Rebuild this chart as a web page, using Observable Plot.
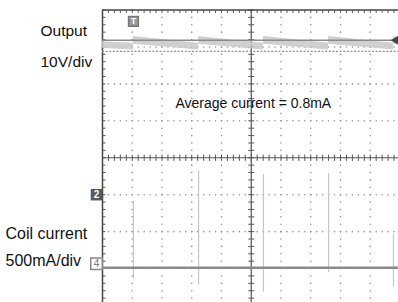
<!DOCTYPE html>
<html>
<head>
<meta charset="utf-8">
<script src="https://cdn.jsdelivr.net/npm/d3@7"></script>
<script src="https://cdn.jsdelivr.net/npm/@observablehq/plot@0.6"></script>
<style>
  html, body { margin: 0; padding: 0; background: #fff; }
</style>
</head>
<body>
<div id="chart"></div>
<script>
// ---- data (screen divisions: x 0..10, y -4..4) ----
const channelNames = ["Output", "10V/div", "Coil current", "500mA/div"];
const annotation = "Average current = 0.8mA";

// output ripple envelope (time in divisions)
const outT  = [0,    1.04, 1.04, 3.23, 3.23, 5.41, 5.41, 7.60, 7.60, 9.78, 9.78, 10];
const outHi = [3.14, 3.10, 3.28, 3.10, 3.28, 3.10, 3.28, 3.10, 3.28, 3.10, 3.28, 3.26];
const outLo = [2.96, 2.92, 3.07, 2.92, 3.07, 2.92, 3.07, 2.92, 3.07, 2.92, 3.07, 3.05];
const outputLevel = 3.18;
const outputLowLevel = 2.88;

// coil current pulses
const pulseT   = [1.04, 3.23, 5.41, 7.60, 9.78];
const pulseTop = [-1.17, -0.35, -0.44, -0.41, -2.07];
const pulseBot = [-3.27, -3.43, -3.62, -3.10, -3.48];
const coilLevel = -2.98;

// channel markers
const markers = [
  {ch: "2", level: -1.0},
  {ch: "4", level: -2.98}
];

// ---- derived ----
const band = outT.map((t, i) => ({t, hi: outHi[i], lo: outLo[i]}));
const pulses = pulseT.map((t, i) => ({t, top: pulseTop[i], bot: pulseBot[i]}));

const gridDots = [];
for (let gx = 1; gx <= 9; gx++) {
  if (gx === 5) continue;
  for (let k = -20; k <= 20; k++) gridDots.push({x: gx, y: k / 5});
}
for (let gy = -3; gy <= 3; gy++) {
  if (gy === 0) continue;
  for (let k = 0; k <= 50; k++) gridDots.push({x: k / 5, y: gy});
}
const minorX = d3.range(0, 51).map(k => k / 5);
const minorY = d3.range(-20, 21).map(k => k / 5);

const H = {x1: 0, x2: 10.2};
const chart = Plot.plot({
  width: 398,
  height: 302,
  margin: 0,
  x: {domain: [0, 10], range: [102, 399.5], axis: null},
  y: {domain: [-4, 4], range: [305, 9.5], axis: null},
  style: {background: "#fff", fontFamily: "'Liberation Sans', Arial, Helvetica, sans-serif", overflow: "visible"},
  marks: [
    // graticule dots
    Plot.dot(gridDots, {x: "x", y: "y", r: 0.8, fill: "#949494", stroke: null}),
    // center axes with ticks
    Plot.ruleY([0], {...H, stroke: "#555", strokeWidth: 1.2}),
    Plot.ruleX([5], {y1: -4.2, y2: 4, stroke: "#555", strokeWidth: 1.2}),
    Plot.link(minorX, {x1: d => d, x2: d => d, y1: -0.085, y2: 0.085, stroke: "#555", strokeWidth: 1}),
    Plot.link(minorY, {x1: 4.9, x2: 5.1, y1: d => d, y2: d => d, stroke: "#555", strokeWidth: 1}),
    // borders with ticks
    Plot.ruleY([4], {...H, stroke: "#444", strokeWidth: 1.5}),
    Plot.ruleX([0], {y1: -4.2, y2: 4, stroke: "#444", strokeWidth: 1.5}),
    Plot.link(minorX, {x1: d => d, x2: d => d, y1: 4, y2: 3.92, stroke: "#555", strokeWidth: 1}),
    Plot.link(minorY, {x1: 0, x2: 0.1, y1: d => d, y2: d => d, stroke: "#555", strokeWidth: 1}),

    // output trace
    Plot.areaY(band, {x: "t", y1: "lo", y2: "hi", fill: "#c8c8c8", fillOpacity: 0.85, curve: "linear"}),
    Plot.ruleY([outputLevel], {...H, stroke: "#8a8a8a", strokeWidth: 1.6}),
    Plot.ruleY([outputLowLevel], {...H, stroke: "#8f8f8f", strokeWidth: 1.3, strokeDasharray: "2,1.6"}),

    // coil current trace
    Plot.link(pulses, {x1: "t", x2: "t", y1: "bot", y2: "top", stroke: "#c6c6c6", strokeWidth: 1.2}),
    Plot.ruleY([coilLevel], {...H, stroke: "#8a8a8a", strokeWidth: 2.6}),

    // trigger marker (top)
    Plot.dot([pulseT[0]], {x: d => d, y: 3.69, symbol: "square", r: 5.5, fill: "#9a9a9a", stroke: "#777"}),
    Plot.text([pulseT[0]], {x: d => d, y: 3.69, text: () => "T", fill: "#fff", fontSize: 9, fontWeight: "bold"}),
    // trigger level marker (right)
    Plot.dot([outputLevel], {x: 10, y: d => d, dx: -4, symbol: "triangle", rotate: -90, r: 3.5, fill: "#444"}),

    // channel markers
    Plot.dot([markers[0]], {x: 0, y: "level", dx: -6, symbol: "square", r: 6.5, fill: "#5a5a5a"}),
    Plot.text([markers[0]], {x: 0, y: "level", dx: -6, text: "ch", fill: "#fff", fontSize: 10, fontWeight: "bold"}),
    Plot.dot([markers[1]], {x: 0, y: "level", dx: -6, dy: -4, symbol: "square", r: 6.5, fill: "#fff", stroke: "#888"}),
    Plot.text([markers[1]], {x: 0, y: "level", dx: -6, dy: -4, text: "ch", fill: "#777", fontSize: 10}),

    // labels
    Plot.text([channelNames[0]], {x: 0, y: 3.42, dx: -62, text: d => d, textAnchor: "start", fontSize: 15.5, fill: "#111"}),
    Plot.text([channelNames[1]], {x: 0, y: 2.59, dx: -62, text: d => d, textAnchor: "start", fontSize: 15.5, fill: "#111"}),
    Plot.text([channelNames[2]], {x: 0, y: -2.06, dx: -97, text: d => d, textAnchor: "start", fontSize: 16, fill: "#111"}),
    Plot.text([channelNames[3]], {x: 0, y: -2.80, dx: -97, text: d => d, textAnchor: "start", fontSize: 16, fill: "#111"}),
    Plot.text([annotation], {x: 5.07, y: 1.47, text: d => d, fontSize: 14, fill: "#111"})
  ]
});
document.getElementById("chart").append(chart);
</script>
</body>
</html>
